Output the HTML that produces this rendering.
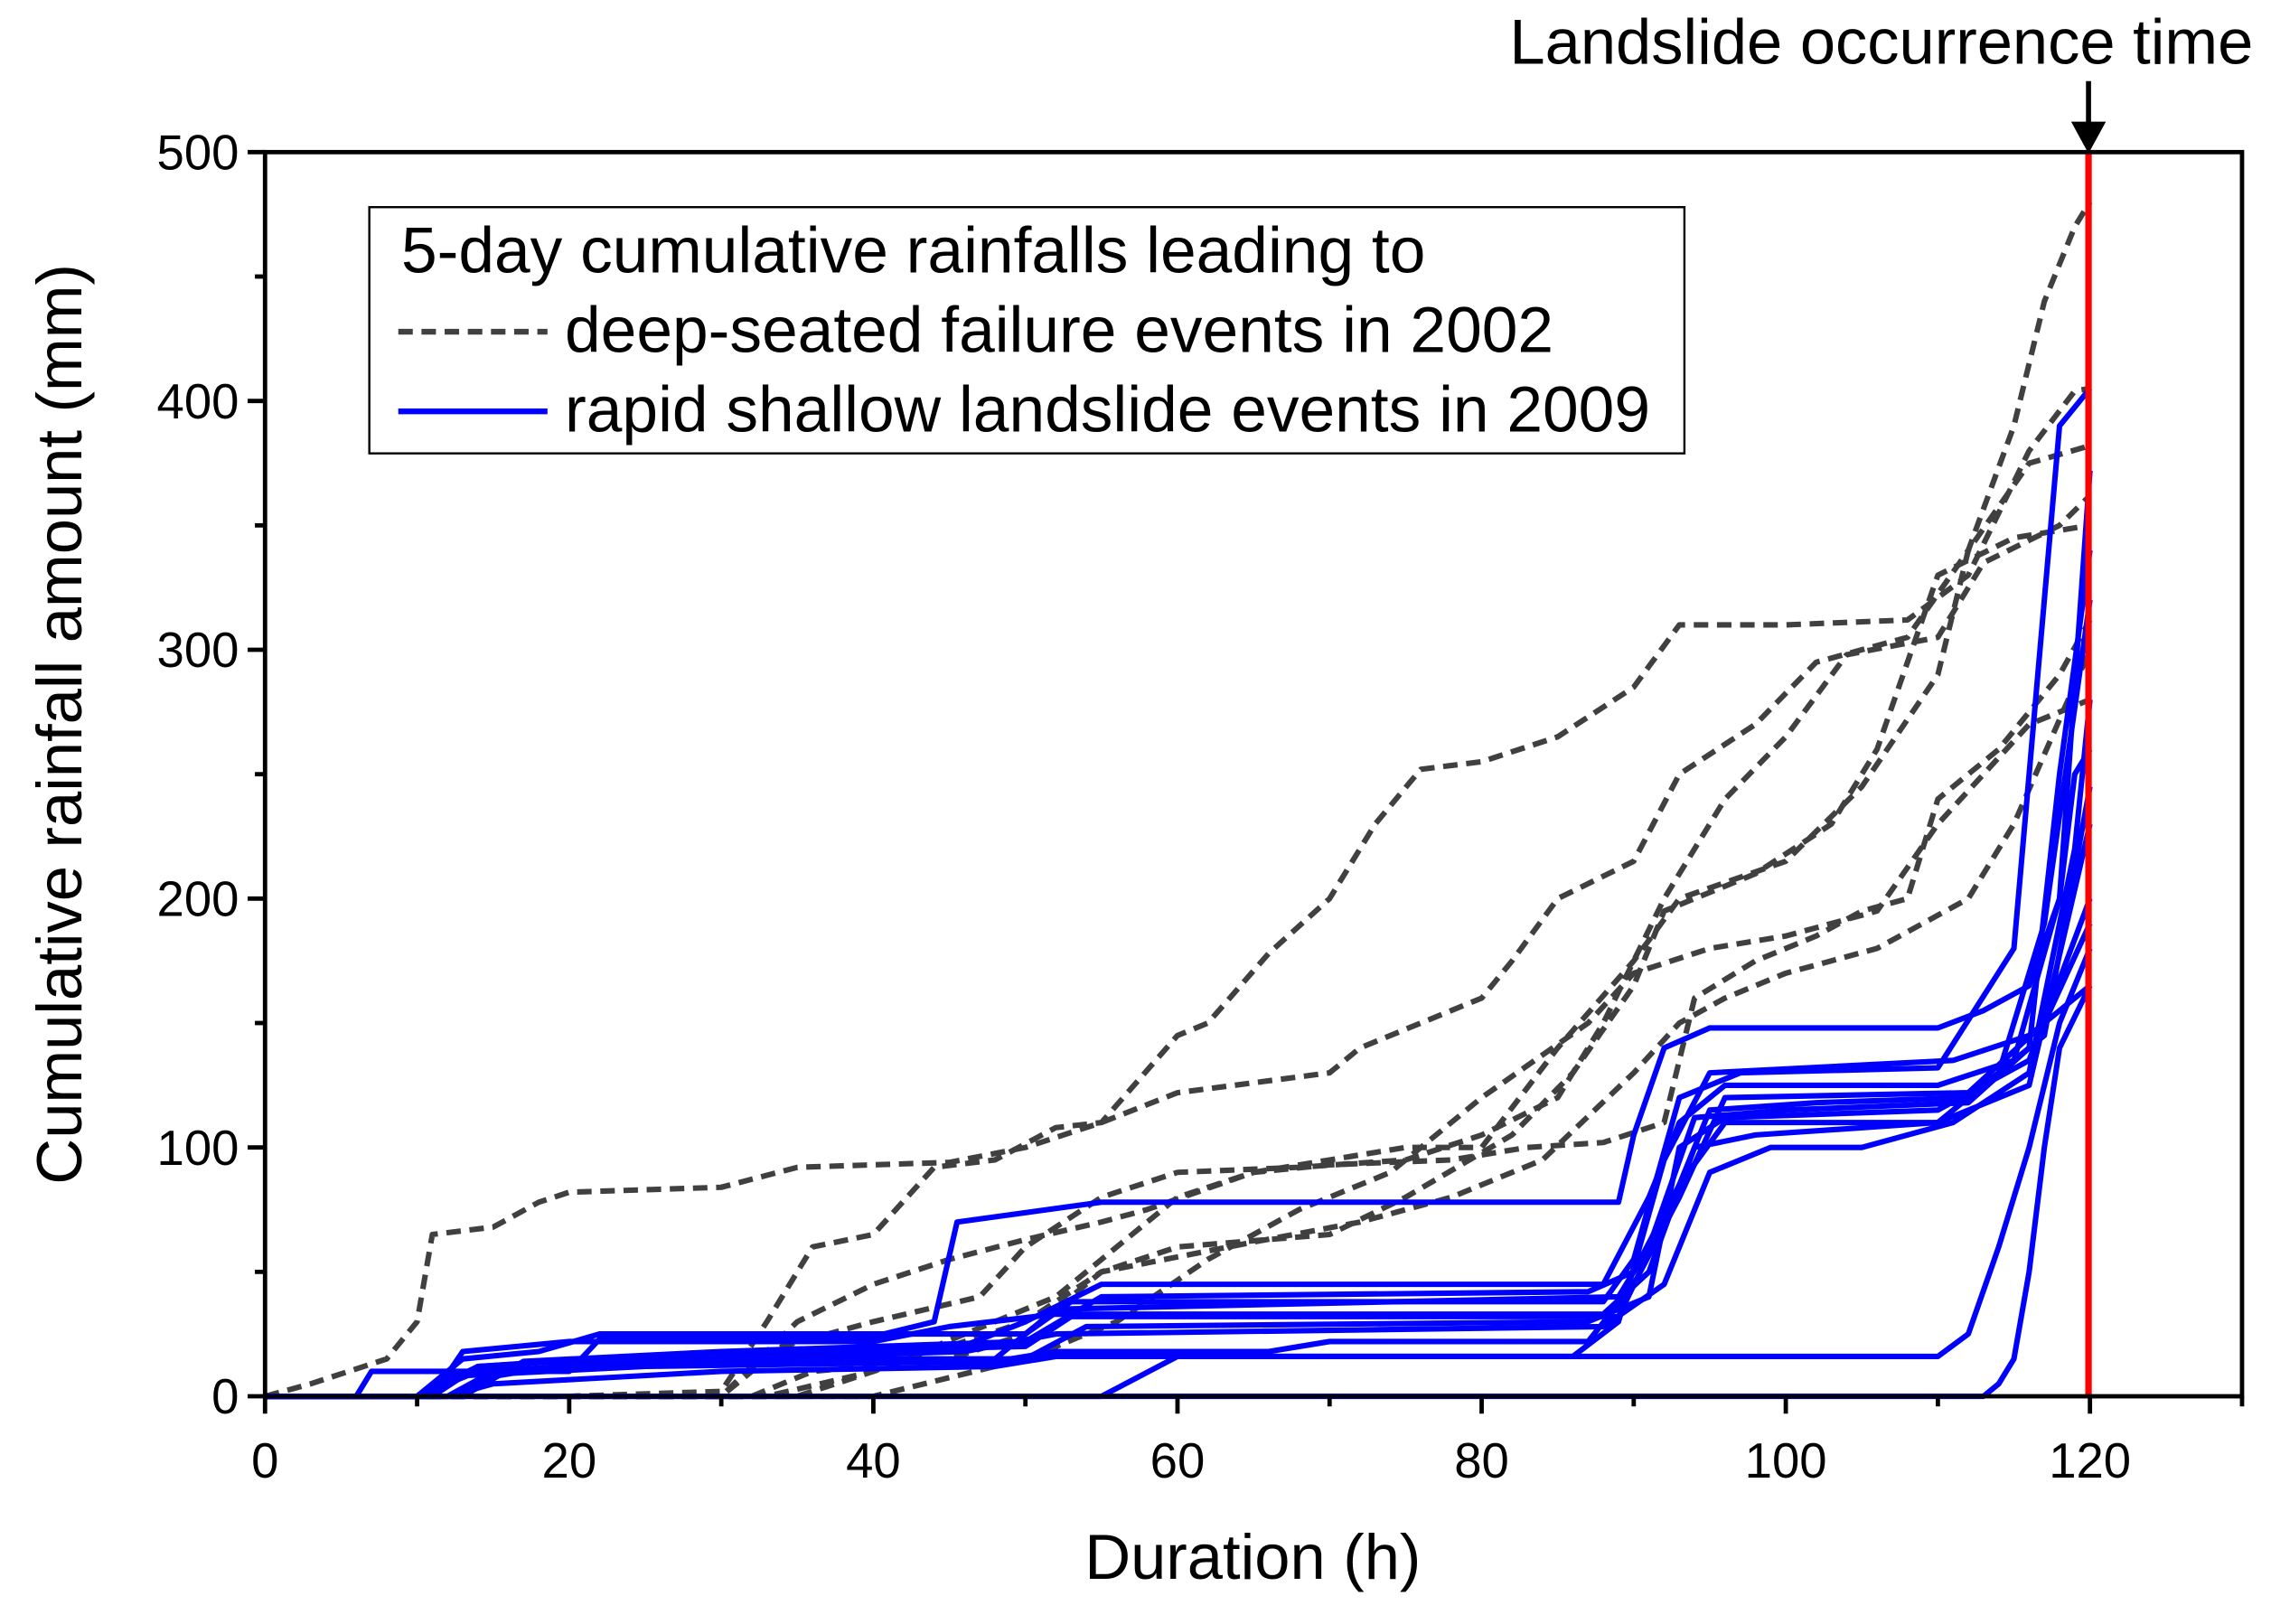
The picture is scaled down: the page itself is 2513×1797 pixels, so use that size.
<!DOCTYPE html>
<html><head><meta charset="utf-8"><style>html,body{margin:0;padding:0;background:#fff}svg{display:block}text{font-family:"Liberation Sans",Arial,sans-serif}</style></head>
<body>
<svg id="chart" width="2513" height="1797" viewBox="0 0 1568 1121.2" xmlns="http://www.w3.org/2000/svg">
<g id="series"></g>
<line x1="1442" y1="105" x2="1442" y2="964" stroke="#ff0000" stroke-width="4.5"/>
<rect x="183" y="105" width="1365" height="859" fill="none" stroke="#000" stroke-width="3"/>
<g id="axes"></g>
<text x="865" y="1090" font-size="44" text-anchor="middle">Duration (h)</text>
<text transform="translate(56,500) rotate(-90)" font-size="44" text-anchor="middle">Cumulative rainfall amount (mm)</text>
<text x="1299" y="44" font-size="44" text-anchor="middle">Landslide occurrence time</text>
<line x1="1442" y1="56" x2="1442" y2="90" stroke="#000" stroke-width="3.5"/>
<polygon points="1430,84 1454,84 1442,106" fill="#000"/>
<g>
<rect x="255" y="143" width="908" height="170" fill="#fff" stroke="#000" stroke-width="1.5"/>
<text x="277" y="188" font-size="44.5">5-day cumulative rainfalls leading to</text>
<line x1="275" y1="229" x2="378" y2="229" stroke="#404040" stroke-width="4" stroke-dasharray="10,6"/>
<text x="390" y="243" font-size="44.5">deep-seated failure events in 2002</text>
<line x1="275" y1="284" x2="378" y2="284" stroke="#0000ff" stroke-width="4"/>
<text x="390" y="298" font-size="44.5">rapid shallow landslide events in 2009</text>
</g>
</svg>
<script>
const xTicks=[0,20,40,60,80,100,120];
const yTicks=[0,100,200,300,400,500];
const deepSeries=[
[[0,0],[3,5],[8,15],[10,30],[11,65],[15,68],[18,78],[20,82],[30,84],[35,92],[45,94],[50,100],[55,110],[60,122],[70,130],[72,140],[80,160],[82,175],[85,200],[90,215],[93,250],[98,270],[102,295],[108,305],[112,340],[115,390],[117,440],[119,470],[120,480]],
[[0,0],[20,0],[30,2],[33,30],[36,60],[40,65],[44,92],[48,95],[52,108],[55,110],[60,145],[62,150],[66,178],[70,200],[73,230],[76,252],[80,255],[85,265],[90,285],[93,310],[100,310],[108,312],[112,330],[116,380],[119,404],[120,405]],
[[0,0],[30,0],[35,30],[40,45],[45,55],[50,63],[55,70],[58,75],[65,90],[70,95],[75,100],[80,100],[85,140],[90,175],[93,200],[100,215],[105,245],[110,290],[112,340],[116,375],[120,382]],
[[0,0],[30,0],[34,20],[40,30],[47,40],[50,60],[55,80],[60,90],[68,92],[75,95],[80,105],[85,120],[88,150],[92,200],[96,240],[100,265],[104,298],[110,305],[113,335],[118,350],[120,362]],
[[0,0],[32,0],[36,10],[45,15],[50,25],[55,50],[60,60],[70,65],[75,80],[82,105],[86,130],[90,165],[92,195],[98,210],[103,230],[106,260],[110,330],[115,345],[120,350]],
[[0,0],[33,0],[40,10],[48,30],[52,40],[60,80],[65,90],[70,93],[78,95],[83,100],[88,102],[92,110],[94,160],[98,175],[102,185],[105,195],[108,200],[110,240],[114,260],[118,290],[120,312]],
[[0,0],[35,0],[45,20],[50,30],[55,50],[65,62],[72,70],[78,80],[84,95],[90,130],[93,150],[96,160],[100,170],[106,180],[112,200],[115,230],[120,300]],
[[0,0],[40,0],[50,15],[56,30],[62,55],[68,75],[74,90],[80,120],[87,150],[90,170],[95,180],[100,185],[106,195],[110,230],[116,270],[120,280]]
];
const shallowSeries=[
[[0,0],[6,0],[7,10],[20,10],[22,23],[40,24],[44,30],[45.5,70],[55,78],[89,78],[90,105],[92,140],[95,148],[110,148],[113,155],[116,165],[118,200],[119,250],[120,260]],
[[0,0],[10,0],[13,15],[18,18],[22,25],[50,25],[53,38],[88,38],[90,55],[93,120],[97,130],[110,132],[115,180],[117,320],[118,390],[120,405]],
[[0,0],[12,0],[15,8],[22,15],[45,18],[50,30],[55,45],[88,45],[91,80],[93,110],[96,125],[110,125],[115,135],[118,200],[120,372]],
[[0,0],[10,0],[14,10],[20,12],[48,15],[52,35],[89,40],[91,60],[94,112],[100,115],[112,118],[116,140],[118,250],[120,340]],
[[0,0],[11,0],[13,18],[20,22],[40,22],[45,28],[52,33],[88,33],[91,50],[94,100],[98,105],[110,110],[114,130],[117,190],[120,320]],
[[0,0],[12,0],[15,10],[25,14],[46,18],[52,25],[88,28],[92,45],[95,90],[99,100],[105,100],[111,110],[116,130],[119,220],[120,280]],
[[0,0],[11,0],[14,12],[24,16],[50,20],[53,32],[89,32],[92,70],[95,115],[102,118],[112,120],[117,145],[120,245]],
[[0,0],[13,0],[17,14],[30,18],[50,22],[55,40],[87,42],[90,50],[93,85],[96,110],[110,110],[116,125],[120,230]],
[[0,0],[10,0],[12,8],[25,12],[48,14],[52,18],[66,18],[70,22],[87,22],[90,45],[93,80],[96,120],[112,122],[117,150],[120,190]],
[[0,0],[12,0],[15,5],[30,10],[48,12],[52,16],[86,16],[89,30],[92,95],[95,130],[111,135],[116,145],[120,165]],
[[0,0],[55,0],[60,16],[110,16],[112,25],[114,60],[116,100],[118,150],[120,180]],
[[0,0],[113,0],[114,5],[115,15],[116,50],[117,100],[118,140],[120,165]],
[[0,0],[10,0],[14,12],[22,15],[50,15],[54,28],[87,30],[91,40],[93,100],[96,112],[110,115],[116,135],[120,200]]
];
const NS='http://www.w3.org/2000/svg';
const X0=183,X1=1548,Y0=964,Y1=105,XMAX=130,YMAX=500;
function sx(v){return X0+(X1-X0)*v/XMAX;}
function sy(v){return Y0-(Y0-Y1)*v/YMAX;}
const sg=document.getElementById('series');
function draw(list,color,dash,name){
 list.forEach((s,i)=>{
  const p=document.createElementNS(NS,'polyline');
  
  
  p.setAttribute('points',s.map(d=>sx(d[0]).toFixed(1)+','+sy(d[1]).toFixed(1)).join(' '));
  p.setAttribute('fill','none');p.setAttribute('stroke',color);p.setAttribute('stroke-width','3.8');
  p.setAttribute('stroke-linejoin','round');
  if(dash)p.setAttribute('stroke-dasharray',dash);
  sg.appendChild(p);
 });
}
draw(deepSeries,'#404040','10,6','deep-seated-series');
draw(shallowSeries,'#0000ff',null,'shallow-series');
const ag=document.getElementById('axes');
function ln(x1,y1,x2,y2,name){const l=document.createElementNS(NS,'line');
 
 
 l.setAttribute('x1',x1);l.setAttribute('y1',y1);l.setAttribute('x2',x2);l.setAttribute('y2',y2);l.setAttribute('stroke','#000');l.setAttribute('stroke-width','3');ag.appendChild(l);}
function tx(x,y,s,anchor,name){const t=document.createElementNS(NS,'text');
 
 
 t.setAttribute('x',x);t.setAttribute('y',y);t.setAttribute('font-size','34');t.setAttribute('text-anchor',anchor);t.textContent=s;ag.appendChild(t);}
for(let v=0;v<=130;v+=10){const major=v%20===0;ln(sx(v),Y0,sx(v),Y0+(major?12:7),'x-tick');}
xTicks.forEach(v=>tx(sx(v),Y0+56,String(v),'middle','x-tick-label'));
for(let v=0;v<=500;v+=50){const major=v%100===0;ln(X0,sy(v),X0-(major?12:7),sy(v),'y-tick');}
yTicks.forEach(v=>tx(X0-18,sy(v)+12,String(v),'end','y-tick-label'));
</script>
</body></html>
